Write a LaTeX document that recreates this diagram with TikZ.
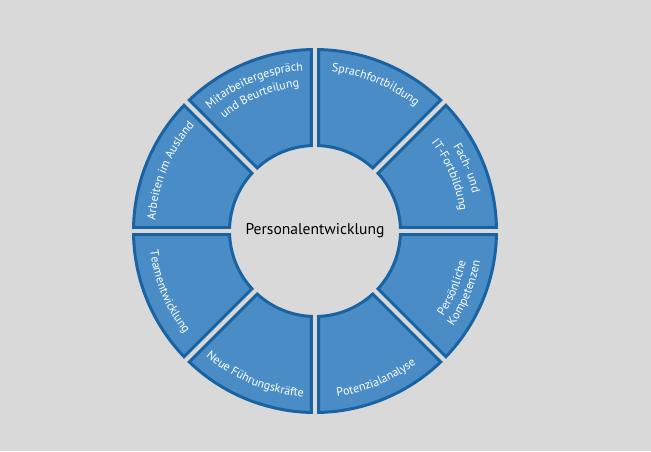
\documentclass[tikz,border=0pt]{standalone}
\usepackage{fontspec}
\setmainfont{PT Sans}
\usepackage{tikz}
\usetikzlibrary{decorations.text}
\definecolor{bggray}{HTML}{D9D9D9}
\definecolor{segfill}{HTML}{4A8DC6}
\definecolor{segline}{HTML}{1A63A3}
\newcommand{\segfont}{\fontsize{9}{10}\selectfont\color{white}}
\tikzset{
  segment/.style={fill=segfill, draw=segline, line width=2.25pt, line join=miter},
  ringlabel/.style={decorate, decoration={text along path, text align=center, text={|\segfont|#1}}}
}

\begin{document}
\begin{tikzpicture}[x=0.75pt, y=0.75pt]
%\draw [help lines, step=10](-315,-220) grid (336,231);
\fill [bggray] (-315,-220) rectangle (336,231);
\useasboundingbox (-315,-220) rectangle (336,231);

\foreach \a in {0,45,...,315}{
  \path [segment] (\a+1.18:181.5) arc [start angle=\a+1.18, end angle=\a+43.82, radius=181.5]
    -- (\a+42.49:85.5) arc [start angle=\a+42.49, end angle=\a+2.51, radius=85.5] -- cycle;
}

% upper half, clockwise
\path [ringlabel={Fach- und}] (45:162) arc [start angle=45, end angle=0, radius=162];
\path [ringlabel={IT-Fortbildung}] (45:146) arc [start angle=45, end angle=0, radius=146];
\path [ringlabel={Sprachfortbildung}] (90:160) arc [start angle=90, end angle=45, radius=160];
\path [ringlabel={Mitarbeitergespräch}] (135:161) arc [start angle=135, end angle=90, radius=161];
\path [ringlabel={und Beurteilung}] (135:145) arc [start angle=135, end angle=90, radius=145];
\path [ringlabel={Arbeiten im Ausland}] (180:160) arc [start angle=180, end angle=135, radius=160];
% lower half, counterclockwise
\path [ringlabel={Teamentwicklung}] (180:166) arc [start angle=180, end angle=225, radius=166];
\path [ringlabel={Neue Führungskräfte}] (225:166) arc [start angle=225, end angle=270, radius=166];
\path [ringlabel={Potenzialanalyse}] (270:167) arc [start angle=270, end angle=315, radius=167];
\path [ringlabel={Persönliche}] (315:154) arc [start angle=315, end angle=360, radius=154];
\path [ringlabel={Kompetenzen}] (315:168) arc [start angle=315, end angle=360, radius=168];

\node [font=\fontsize{11.7}{14}\selectfont] (title) at (0,0) {Personalentwicklung};
\end{tikzpicture}
\end{document}
